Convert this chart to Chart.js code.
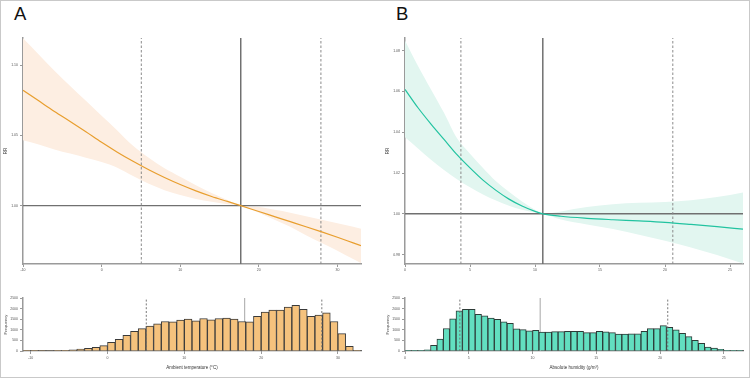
<!DOCTYPE html>
<html><head><meta charset="utf-8">
<script src="https://cdn.jsdelivr.net/npm/chart.js@4/dist/chart.umd.min.js"></script>
<style>
html,body{margin:0;padding:0;background:#fff;}
#frame{position:absolute;left:0;top:0;width:748px;height:376px;border:1px solid #c9c9c9;}
canvas{position:absolute;}
.lbl{position:absolute;font-family:"Liberation Sans",Arial,sans-serif;font-size:18.5px;line-height:1;color:#111;}
</style></head><body>
<div id="frame"></div>
<div class="lbl" style="left:14px;top:5px">A</div>
<div class="lbl" style="left:396px;top:5px">B</div>
<canvas id="mA" width="375" height="250" style="left:0;top:30px"></canvas>
<canvas id="hA" width="375" height="91" style="left:0;top:285px"></canvas>
<canvas id="mB" width="375" height="250" style="left:375px;top:30px"></canvas>
<canvas id="hB" width="375" height="91" style="left:375px;top:285px"></canvas>
<script>
// ---- Panel A: ambient temperature ----
const tempX     = [-10,-8,-6,-4,-2,0,2,4,6,8,10,12,14,16,17.7,20,22,24,26,28,30,32,33];
const tempRR    = [1.082,1.0745,1.067,1.0598,1.0525,1.045,1.038,1.0315,1.0255,1.0200,1.0150,1.0105,1.0065,1.003,1.0,0.9958,0.9922,0.9886,0.985,0.9813,0.9775,0.9735,0.9715];
const tempUpper = [1.119,1.1075,1.096,1.085,1.0745,1.064,1.0535,1.0425,1.034,1.0265,1.0205,1.0145,1.009,1.004,1.0,0.999,0.997,0.995,0.9925,0.990,0.9875,0.985,0.9835];
const tempLower = [1.0465,1.0435,1.040,1.037,1.034,1.031,1.027,1.021,1.0155,1.011,1.0075,1.0048,1.0027,1.001,1.0,0.995,0.990,0.985,0.979,0.9735,0.968,0.962,0.959];
const tempRef = 17.7;
const tempPct = [5.05, 27.9];
const tempXTicks = [-10,0,10,20,30];
const tempYTicks = [1.00,1.05,1.10];
const tempBins = [-11,-10,-9,-8,-7,-6,-5,-4,-3,-2,-1,0,1,2,3,4,5,6,7,8,9,10,11,12,13,14,15,16,17,18,19,20,21,22,23,24,25,26,27,28,29,30,31,32];
const tempFreq = [10,15,20,25,30,30,50,95,125,170,250,410,550,740,930,1055,1175,1285,1390,1380,1460,1505,1425,1535,1470,1535,1550,1500,1390,1375,1630,1835,1930,1930,2070,2150,1960,1630,1690,1800,1390,820,220,30];

// ---- Panel B: absolute humidity ----
const humX     = [0,1,2,3,4,5,6,7,8,9,10,10.6,12,14,16,18,20,22,24,26];
const humRR    = [1.061,1.052,1.044,1.0365,1.029,1.0225,1.0165,1.0115,1.0072,1.0038,1.0012,1.0,0.9988,0.9978,0.9971,0.9965,0.9958,0.9948,0.9937,0.9925];
const humUpper = [1.085,1.0725,1.061,1.0495,1.037,1.0295,1.0225,1.016,1.0108,1.006,1.002,1.0,1.0012,1.0033,1.0047,1.0054,1.0058,1.0066,1.0082,1.0105];
const humLower = [1.0375,1.032,1.0265,1.0215,1.017,1.013,1.0095,1.0065,1.004,1.002,1.0006,1.0,0.9972,0.9948,0.9925,0.9898,0.9868,0.9835,0.9798,0.9756];
const humRef = 10.6;
const humPct = [4.3, 20.6];
const humXTicks = [0,5,10,15,20,25];
const humYTicks = [0.98,1.00,1.02,1.04,1.06,1.08];
const humBins = [0,0.5,1,1.5,2,2.5,3,3.5,4,4.5,5,5.5,6,6.5,7,7.5,8,8.5,9,9.5,10,10.5,11,11.5,12,12.5,13,13.5,14,14.5,15,15.5,16,16.5,17,17.5,18,18.5,19,19.5,20,20.5,21,21.5,22,22.5,23,23.5,24,24.5,25,25.5,26];
const humFreq = [10,10,15,60,270,560,1060,1520,1900,1965,1965,1725,1660,1555,1495,1380,1300,1050,1010,950,970,895,895,915,915,930,930,930,870,865,930,900,870,800,800,815,815,930,1055,1055,1195,1120,995,835,675,500,360,190,135,80,30,10,5];
const freqTicks = [0,500,1000,1500,2000,2500];

Chart.defaults.font.family = '"Liberation Sans", Arial, sans-serif';
Chart.defaults.animation = false;

function pts(xs, ys){ return xs.map((x,i)=>({x:x, y:ys[i]})); }
function setTicks(vals){ return function(s){ s.ticks = vals.map(v=>({value:v})); }; }
const AXIS = '#9a9a9a';

function mainChart(id, c){
  const vlines = c.pct.map(p=>({data:[{x:p,y:c.yMin},{x:p,y:c.yMax}], borderColor:'#8a8a8a', borderWidth:1, borderDash:[2.5,2], pointRadius:0, order:4}));
  return new Chart(document.getElementById(id), {
    type:'line',
    data:{datasets:[
      {data:pts(c.x,c.upper), borderWidth:0, borderColor:'rgba(0,0,0,0)', backgroundColor:c.band, fill:'+1', pointRadius:0, cubicInterpolationMode:'monotone', order:10},
      {data:pts(c.x,c.lower), borderWidth:0, borderColor:'rgba(0,0,0,0)', fill:false, pointRadius:0, cubicInterpolationMode:'monotone', order:10},
      {data:[{x:c.xMin,y:1},{x:c.xMax,y:1}], borderColor:'#707070', borderWidth:1.4, pointRadius:0, order:5},
      {data:[{x:c.ref,y:c.yMin},{x:c.ref,y:c.yMax}], borderColor:'#707070', borderWidth:1.5, pointRadius:0, order:5},
      {data:pts(c.x,c.rr), borderColor:c.line, borderWidth:1.2, pointRadius:0, cubicInterpolationMode:'monotone', order:1}
    ].concat(vlines)},
    options:{
      responsive:false, devicePixelRatio:1, animation:false,
      layout:{padding:{top:8, right:c.padR, left:0, bottom:0}},
      plugins:{legend:{display:false}, tooltip:{enabled:false}},
      scales:{
        x:{type:'linear', min:c.xMin, max:c.xMax, afterBuildTicks:setTicks(c.xTicks), afterFit:s=>{s.height=16;},
           grid:{drawOnChartArea:false, tickLength:3, color:AXIS}, border:{color:AXIS, width:1.5},
           ticks:{font:{size:3.5}, color:'#555', padding:1, maxRotation:0, autoSkip:false, callback:v=>String(v)}},
        y:{type:'linear', min:c.yMin, max:c.yMax, afterBuildTicks:setTicks(c.yTicks), afterFit:s=>{s.width=c.yw;},
           grid:{drawOnChartArea:false, tickLength:3, color:AXIS}, border:{color:AXIS, width:1.5},
           ticks:{font:{size:3.5}, color:'#555', padding:2, autoSkip:false, callback:v=>Number(v).toFixed(2)},
           title:{display:true, text:'RR', font:{size:4.5}, color:'#444', padding:{top:c.titlePad, bottom:0}}}
      }
    }
  });
}

function histChart(id, c){
  const ds = [
    {type:'line', data:[{x:c.ref,y:0},{x:c.ref,y:2500}], borderColor:'#b5b5b5', borderWidth:1.2, pointRadius:0, order:10},
    {type:'bar', data:c.bins.map((b,i)=>({x:b+c.w/2, y:c.freq[i]})), backgroundColor:c.fill, borderColor:c.edge, borderWidth:1, barPercentage:1, categoryPercentage:1, order:5}
  ].concat(c.pct.map(p=>({type:'line', data:[{x:p,y:0},{x:p,y:2500}], borderColor:'#6a6a6a', borderWidth:0.9, borderDash:[2,1.8], pointRadius:0, order:1})));
  return new Chart(document.getElementById(id), {
    type:'bar',
    data:{datasets:ds},
    options:{
      responsive:false, devicePixelRatio:1, animation:false,
      layout:{padding:{top:13, right:c.padR, left:0, bottom:0}},
      plugins:{legend:{display:false}, tooltip:{enabled:false}},
      scales:{
        x:{type:'linear', offset:false, min:c.xMin, max:c.xMax, afterBuildTicks:setTicks(c.xTicks), afterFit:s=>{s.height=25;},
           grid:{drawOnChartArea:false, tickLength:3, color:AXIS, offset:false}, border:{color:'#666', width:1.2},
           ticks:{font:{size:3.5}, color:'#555', padding:2, maxRotation:0, autoSkip:false, callback:v=>String(v)},
           title:{display:true, text:c.xTitle, font:{size:4.5}, color:'#333', padding:{top:0, bottom:6}}},
        y:{type:'linear', min:0, max:2500, afterBuildTicks:setTicks(freqTicks), afterFit:s=>{s.width=c.yw;},
           grid:{drawOnChartArea:false, tickLength:3, color:AXIS}, border:{color:AXIS, width:1.5},
           ticks:{font:{size:3.5}, color:'#555', padding:2, autoSkip:false, callback:v=>String(v)},
           title:{display:true, text:'Frequency', font:{size:4.2}, color:'#444', padding:{top:c.titlePad, bottom:0}}}
      }
    }
  });
}

mainChart('mA', {x:tempX, rr:tempRR, upper:tempUpper, lower:tempLower, ref:tempRef, pct:tempPct,
  xMin:-10, xMax:33, yMin:0.9585, yMax:1.1192, xTicks:tempXTicks, yTicks:tempYTicks,
  line:'#E89E2E', band:'#FDEEE2', padR:14, yw:23, titlePad:3});
mainChart('mB', {x:humX, rr:humRR, upper:humUpper, lower:humLower, ref:humRef, pct:humPct,
  xMin:0, xMax:26, yMin:0.9754, yMax:1.0862, xTicks:humXTicks, yTicks:humYTicks,
  line:'#22C3A0', band:'#E2F6F0', padR:7, yw:30, titlePad:10});
histChart('hA', {bins:tempBins, freq:tempFreq, w:1, ref:tempRef+0.15, pct:tempPct, xMin:-11, xMax:33,
  xTicks:tempXTicks, xTitle:'Ambient temperature (°C)', fill:'#F5C27D', edge:'#3a3a3a', padR:14, yw:23, titlePad:3});
histChart('hB', {bins:humBins, freq:humFreq, w:0.5, ref:humRef, pct:humPct, xMin:0, xMax:26.5,
  xTicks:humXTicks, xTitle:'Absolute humidity (g/m³)', fill:'#62DFC0', edge:'#2d3b37', padR:7, yw:30, titlePad:10});
</script>
</body></html>
